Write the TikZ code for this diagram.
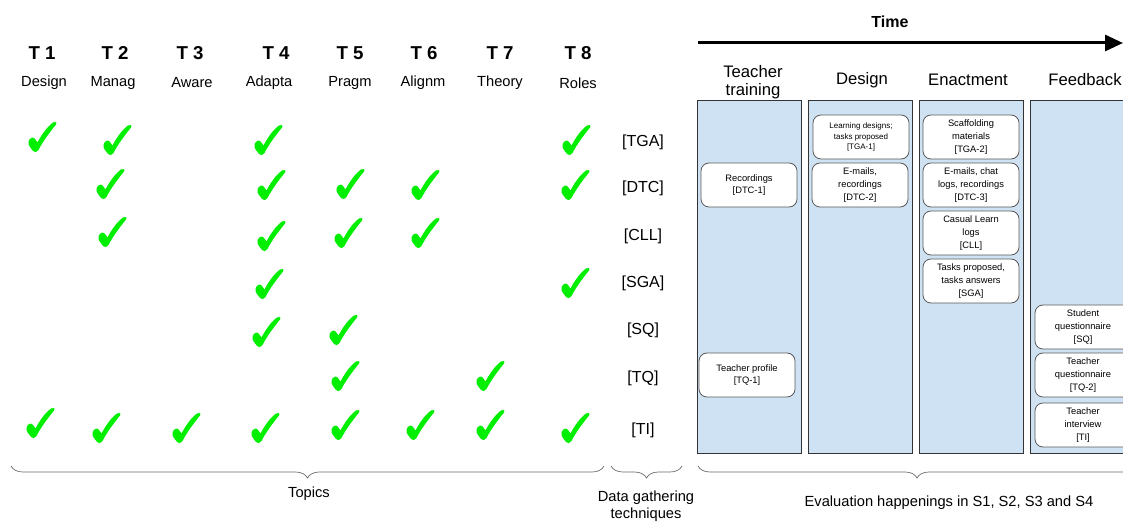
\documentclass[tikz,border=0pt]{standalone}
\usepackage{fontspec}
\setmainfont{Liberation Sans}
\usepackage{tikz}
\usetikzlibrary{calc}
\usetikzlibrary{arrows.meta}
\usetikzlibrary{decorations.pathreplacing}
\definecolor{tickgreen}{RGB}{0,238,0}
\definecolor{phaseblue}{HTML}{CFE2F3}
\tikzstyle{topic} = [font=\fontsize{14}{16}\selectfont\bfseries]
\tikzstyle{topicname} = [font=\fontsize{11}{13}\selectfont]
\tikzstyle{technique} = [font=\fontsize{12}{14}\selectfont]
\tikzstyle{phase} = [draw=black!80, fill=phaseblue, line width=0.75pt]
\tikzstyle{phasename} = [font=\fontsize{12.5}{13.5}\selectfont, align=center]
\tikzstyle{evidence} = [draw=black!65, fill=white, rounded corners=6pt, line width=0.6pt, minimum width=72pt, minimum height=33pt, align=center, inner sep=1pt, font=\fontsize{7}{9.5}\selectfont]
\tikzstyle{brace} = [draw=black!60, line width=0.5pt, decorate, decoration={brace,mirror,amplitude=9pt}]
\tikzstyle{caption} = [font=\fontsize{11}{13}\selectfont, align=center]
\tikzset{tickmark/.pic={
  \fill[tickgreen] (-4.5,5.5) .. controls (0,-3) and (5,-10) .. (11,-14.5)
    .. controls (13,-15.8) and (15.5,-15) .. (14,-12.5)
    .. controls (8,-5) and (1,4) .. (-3.5,13)
    .. controls (-5,15.5) and (-7.5,15.8) .. (-9,14)
    .. controls (-11,11) and (-14.5,8) .. (-13.5,4.5)
    .. controls (-12.5,1) and (-9,-0.5) .. (-7.5,1.5)
    .. controls (-6.5,2.5) and (-5.5,4) .. cycle;
}}

\begin{document}
\begin{tikzpicture}[x=0.75pt,y=-0.75pt]
\clip (0,0) rectangle (1123,523);

% topics
\node[topic] (T1) at (42,53) {T 1};
\node[topic] (T2) at (115,53) {T 2};
\node[topic] (T3) at (190,53) {T 3};
\node[topic] (T4) at (276,53) {T 4};
\node[topic] (T5) at (350,53) {T 5};
\node[topic] (T6) at (424,53) {T 6};
\node[topic] (T7) at (500,53) {T 7};
\node[topic] (T8) at (578,53) {T 8};
\node[topicname] (N1) at (44,83) {Design};
\node[topicname] (N2) at (113,83) {Manag};
\node[topicname] (N3) at (192,83) {Aware};
\node[topicname] (N4) at (269,83) {Adapta};
\node[topicname] (N5) at (350,83) {Pragm};
\node[topicname] (N6) at (423,83) {Alignm};
\node[topicname] (N7) at (500,83) {Theory};
\node[topicname] (N8) at (578,83) {Roles};

% data gathering techniques
\node[technique] (TGA) at (643,142) {[TGA]};
\node[technique] (DTC) at (643,188) {[DTC]};
\node[technique] (CLL) at (643,236) {[CLL]};
\node[technique] (SGA) at (643,283) {[SGA]};
\node[technique] (SQ)  at (643,330) {[SQ]};
\node[technique] (TQ)  at (643,378) {[TQ]};
\node[technique] (TI)  at (643,430) {[TI]};

% ticks
\foreach \x/\y [count=\n] in {42/137, 117/140, 268/140, 576/140,
    110/184, 271/185, 350/184, 425/185, 575/185,
    112/232, 271/236, 348/233, 425/233,
    269/284, 575/283,
    266/332, 343/330,
    345/376, 490/376,
    40/423, 106/428, 186/428, 265/428, 345/425, 420/425, 490/425, 575/428}
  \pic (tick\n) at (\x,\y) {tickmark};

% time line
\node[font=\fontsize{12}{14}\selectfont\bfseries] (time) at (890,22) {Time};
\coordinate (tstart) at (698,43);
\coordinate (tend) at (1123,43);
\draw[line width=2.25pt, -{Triangle[length=13.5pt,width=12pt]}] (tstart) -- (tend);

% phases
\coordinate (TR) at (697,101);
\coordinate (DE) at (808,101);
\coordinate (EN) at (919,101);
\coordinate (FB) at (1030,101);
\draw[phase] (TR) rectangle ($(TR)+(104,352)$);
\draw[phase] (DE) rectangle ($(DE)+(104,352)$);
\draw[phase] (EN) rectangle ($(EN)+(104,352)$);
\draw[phase] (FB) rectangle ($(FB)+(104,352)$);
\node[phasename] (TRname) at (753,82) {Teacher\\training};
\node[phasename] (DEname) at (862,80) {Design};
\node[phasename] (ENname) at (968,80) {Enactment};
\node[phasename] (FBname) at (1085,80) {Feedback};

% evidences
\node[evidence] (DTC1) at (749,185) {Recordings\\{}[DTC-1]};
\node[evidence] (TQ1)  at (747,375) {Teacher profile\\{}[TQ-1]};
\node[evidence, font=\fontsize{6}{8}\selectfont] (TGA1) at (861,137) {Learning designs;\\tasks proposed\\{}[TGA-1]};
\node[evidence] (DTC2) at (860,185) {E-mails,\\recordings\\{}[DTC-2]};
\node[evidence] (TGA2) at (971,137) {Scaffolding\\materials\\{}[TGA-2]};
\node[evidence] (DTC3) at (971,185) {E-mails, chat\\logs, recordings\\{}[DTC-3]};
\node[evidence] (CLLlog) at (971,233) {Casual Learn\\logs\\{}[CLL]};
\node[evidence] (SGA1) at (971,281) {Tasks proposed,\\tasks answers\\{}[SGA]};
\node[evidence] (SQ1)  at (1083,327) {Student\\questionnaire\\{}[SQ]};
\node[evidence] (TQ2)  at (1083,375) {Teacher\\questionnaire\\{}[TQ-2]};
\node[evidence] (TI1)  at (1083,425) {Teacher\\interview\\{}[TI]};

% braces
\draw[brace] (11,466) -- (604,466);
\draw[brace] (611,466) -- (682,466);
\draw[brace] (698,466) -- (1136,466);
\node[caption] (topics) at (309,494) {Topics};
\node[caption] (techniques) at (646,506) {Data gathering\\techniques};
\node[caption] (happenings) at (949,503) {Evaluation happenings in S1, S2, S3 and S4};

\end{tikzpicture}
\end{document}
